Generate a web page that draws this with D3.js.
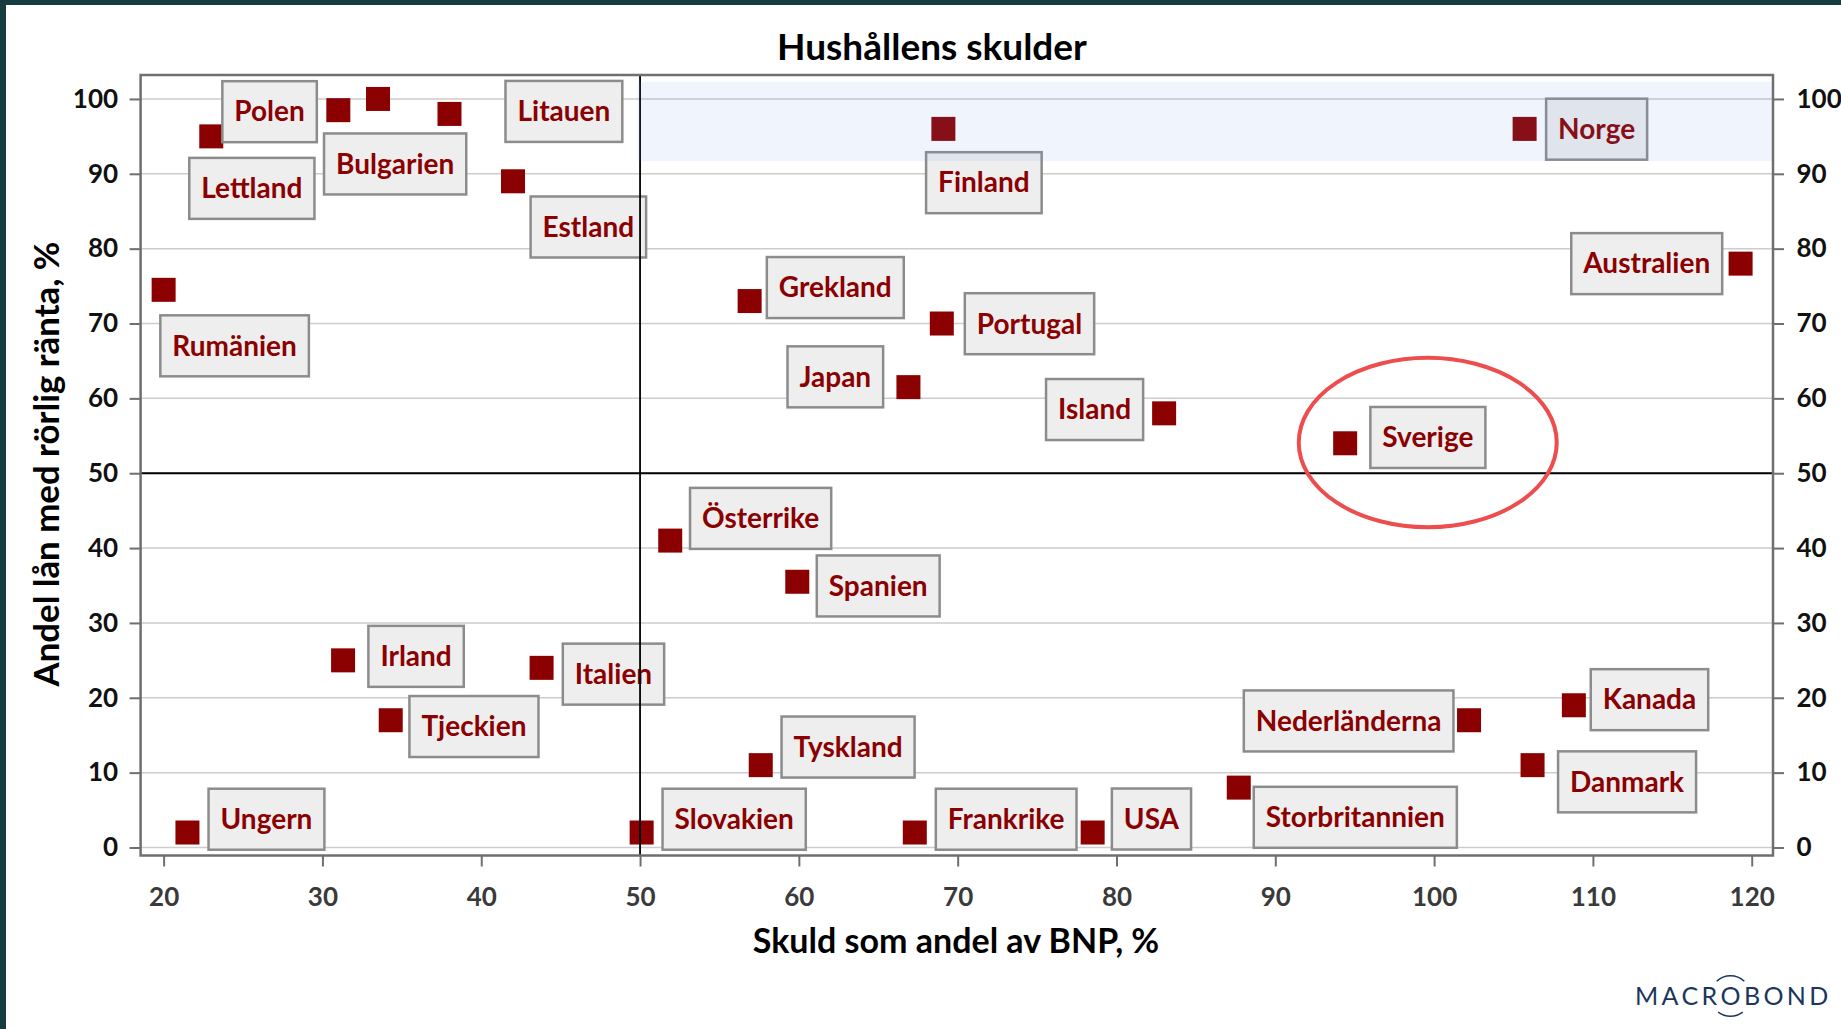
<!DOCTYPE html>
<html>
<head>
<meta charset="utf-8">
<script src="https://cdn.jsdelivr.net/npm/d3@7"></script>
<style>
  body { margin: 0; background: #fff; }
  svg { display: block; font-family: Lato, "Open Sans", sans-serif; }
</style>
</head>
<body>
<svg id="chart" width="1841" height="1029"></svg>
<script>
// Data: debt as share of GDP (x) and share of variable-rate loans (y)
const countries = ["Lettland", "Polen", "Bulgarien", "Litauen", "Estland", "Rumänien", "Finland", "Norge",
  "Australien", "Grekland", "Portugal", "Japan", "Island", "Sverige", "Österrike", "Spanien", "Irland",
  "Italien", "Tjeckien", "Tyskland", "Nederländerna", "Kanada", "Danmark", "Ungern", "Slovakien",
  "Frankrike", "USA", "Storbritannien"];
const debtShare = [23.0, 31.0, 33.5, 38.0, 42.0, 20.0, 69.1, 105.7, 119.3, 56.9, 69.0, 66.9, 83.0, 94.4,
  51.9, 59.9, 31.3, 43.8, 34.3, 57.6, 102.2, 108.8, 106.2, 21.5, 50.1, 67.3, 78.5, 87.7];
const variableShare = [95, 98.5, 100, 98, 89, 74.5, 96, 96, 78, 73, 70, 61.5, 58, 54, 41, 35.5, 25, 24,
  17, 11, 17, 19, 11, 2, 2, 2, 2, 8];
const xTicks = [20, 30, 40, 50, 60, 70, 80, 90, 100, 110, 120];
const yTicks = [0, 10, 20, 30, 40, 50, 60, 70, 80, 90, 100];

const title = "Hushållens skulder";
const xTitle = "Skuld som andel av BNP, %";
const yTitle = "Andel lån med rörlig ränta, %";

// label box placement, px from marker centre: [dx, dy of box centre, which box edge dx points at]
const labelLayout = {
  "Lettland": [-22, 52, "start"],
  "Polen": [-21.5, 1.5, "end"],
  "Bulgarien": [-54, 65, "start"],
  "Litauen": [56, -2.5, "start"],
  "Estland": [17.6, 45.7, "start"],
  "Rumänien": [-3.3, 56, "start"],
  "Finland": [-17.3, 53.8, "start"],
  "Norge": [21.5, 0.3, "start"],
  "Australien": [-18.4, 0, "end"],
  "Grekland": [17.2, -13.5, "start"],
  "Portugal": [23, 0.2, "start"],
  "Japan": [-25.3, -10.3, "end"],
  "Island": [-21, -3.8, "end"],
  "Sverige": [25.2, -5.8, "start"],
  "Österrike": [19.8, -22.2, "start"],
  "Spanien": [19.5, 4.2, "start"],
  "Irland": [25.3, -4, "start"],
  "Italien": [21.2, 6.3, "start"],
  "Tjeckien": [18.7, 6.3, "start"],
  "Tyskland": [20.8, -18.1, "start"],
  "Nederländerna": [-15.6, 0.7, "end"],
  "Kanada": [16.9, -5.6, "start"],
  "Danmark": [25.5, 16.7, "start"],
  "Ungern": [21.1, -13.3, "start"],
  "Slovakien": [20.9, -13.3, "start"],
  "Frankrike": [21, -13.3, "start"],
  "USA": [19.2, -13.5, "start"],
  "Storbritannien": [15, 29.7, "start"]
};

const W = 1841, H = 1029;
const frame = {left: 140.6, right: 1773, top: 75, bottom: 855.5};
const red = "#8b0000";

const svg = d3.select("#chart");

const x = d3.scaleLinear().domain([18.55, 121.34]).range([frame.left, frame.right]);
const y = d3.scaleLinear().domain([-1.07, 103.2]).range([frame.bottom, frame.top]);

// dark edge of the slide
svg.append("rect").attr("x", 0).attr("y", 0).attr("width", W).attr("height", 5).attr("fill", "#173c40");
svg.append("rect").attr("x", 0).attr("y", 0).attr("width", 6).attr("height", H).attr("fill", "#173c40");

// gridlines
svg.append("g")
  .selectAll("line")
  .data(yTicks)
  .enter().append("line")
  .attr("x1", frame.left).attr("x2", frame.right)
  .attr("y1", d => y(d)).attr("y2", d => y(d))
  .attr("stroke", "#cdcdcd")
  .attr("stroke-width", 1.5);

const points = countries.map((c, i) => ({name: c, x: debtShare[i], y: variableShare[i]}));

// markers
const size = 24;
svg.append("g")
  .selectAll("rect")
  .data(points)
  .enter().append("rect")
  .attr("x", d => x(d.x) - size / 2)
  .attr("y", d => y(d.y) - size / 2)
  .attr("width", size)
  .attr("height", size)
  .attr("fill", red);

// labels in grey boxes
const labels = svg.append("g");
points.forEach(p => {
  const [dx, dy, anchor] = labelLayout[p.name];
  const g = labels.append("g");
  const box = g.append("rect");
  const t = g.append("text")
    .text(p.name)
    .attr("font-size", 28)
    .attr("font-weight", "bold")
    .attr("fill", red)
    .attr("text-anchor", "middle")
    .attr("dy", "0.35em");
  const w = t.node().getComputedTextLength() + 24;
  const mx = x(p.x), my = y(p.y);
  const left = anchor === "end" ? mx + dx - w : mx + dx;
  const cy = my + dy;
  box.attr("x", left).attr("y", cy - 30.5)
    .attr("width", w).attr("height", 61)
    .attr("fill", "#eeeeee")
    .attr("stroke", "#8c8c8c")
    .attr("stroke-width", 2.5);
  t.attr("x", left + w / 2).attr("y", cy);
});

// 50/50 reference lines
svg.append("line")
  .attr("x1", x(50)).attr("x2", x(50))
  .attr("y1", frame.top).attr("y2", frame.bottom)
  .attr("stroke", "#000").attr("stroke-width", 1.8);
svg.append("line")
  .attr("x1", frame.left).attr("x2", frame.right)
  .attr("y1", y(50)).attr("y2", y(50))
  .attr("stroke", "#000").attr("stroke-width", 2);

// light blue highlight band
svg.append("rect")
  .attr("x", x(49.84))
  .attr("y", y(102.3))
  .attr("width", frame.right - x(49.84))
  .attr("height", y(91.7) - y(102.3))
  .attr("fill", "rgba(100,150,235,0.1)");

// ring around Sverige
svg.append("ellipse")
  .attr("cx", x(99.6))
  .attr("cy", y(54.1))
  .attr("rx", 129)
  .attr("ry", 84.7)
  .attr("fill", "none")
  .attr("stroke", "#ee4d4d")
  .attr("stroke-width", 4);

// frame
svg.append("rect")
  .attr("x", frame.left).attr("y", frame.top)
  .attr("width", frame.right - frame.left)
  .attr("height", frame.bottom - frame.top)
  .attr("fill", "none")
  .attr("stroke", "#6f6f6f")
  .attr("stroke-width", 2.5);

function styleAxis(g, color) {
  g.select(".domain").remove();
  g.selectAll(".tick line").attr("stroke", "#6f6f6f").attr("stroke-width", 2);
  g.selectAll(".tick text")
    .attr("font-size", 26)
    .attr("font-weight", "bold")
    .attr("font-family", "Lato, sans-serif")
    .attr("fill", color);
}

svg.append("g")
  .attr("transform", `translate(${frame.left},0)`)
  .call(d3.axisLeft(y).tickValues(yTicks).tickSize(11).tickPadding(11.5).tickFormat(d3.format("d")))
  .call(g => styleAxis(g, "#111"));

svg.append("g")
  .attr("transform", `translate(${frame.right},0)`)
  .call(d3.axisRight(y).tickValues(yTicks).tickSize(11).tickPadding(12.5).tickFormat(d3.format("d")))
  .call(g => styleAxis(g, "#111"));

svg.append("g")
  .attr("transform", `translate(0,${frame.bottom})`)
  .call(d3.axisBottom(x).tickValues(xTicks).tickSize(11).tickPadding(20.7).tickFormat(d3.format("d")))
  .call(g => styleAxis(g, "#3a3a3a"));

// titles
svg.append("text")
  .attr("x", 932).attr("y", 60)
  .attr("text-anchor", "middle")
  .attr("font-size", 37)
  .attr("font-weight", "bold")
  .attr("fill", "#000")
  .text(title);

svg.append("text")
  .attr("x", 956).attr("y", 953)
  .attr("text-anchor", "middle")
  .attr("font-size", 34)
  .attr("font-weight", "bold")
  .attr("fill", "#000")
  .text(xTitle);

svg.append("text")
  .attr("transform", "translate(59,464) rotate(-90)")
  .attr("text-anchor", "middle")
  .attr("font-size", 34.8)
  .attr("font-weight", "bold")
  .attr("fill", "#000")
  .text(yTitle);

// Macrobond mark
const logoColor = "#1b365d";
const logo = svg.append("text")
  .attr("x", 1635).attr("y", 1005)
  .attr("font-size", 25)
  .attr("font-weight", 400)
  .attr("letter-spacing", 3.4)
  .attr("fill", logoColor)
  .text("MACROBOND");
const oStart = logo.node().getStartPositionOfChar(4);
const oEnd = logo.node().getEndPositionOfChar(4);
const oCx = (oStart.x + oEnd.x - 3.4) / 2;
const arc = d3.arc().innerRadius(19.5).outerRadius(21);
svg.append("path")
  .attr("transform", `translate(${oCx},996)`)
  .attr("d", arc({startAngle: -0.75, endAngle: 0.75}))
  .attr("fill", logoColor);
svg.append("path")
  .attr("transform", `translate(${oCx},996)`)
  .attr("d", arc({startAngle: Math.PI - 0.65, endAngle: Math.PI + 0.65}))
  .attr("fill", logoColor);
</script>
</body>
</html>
